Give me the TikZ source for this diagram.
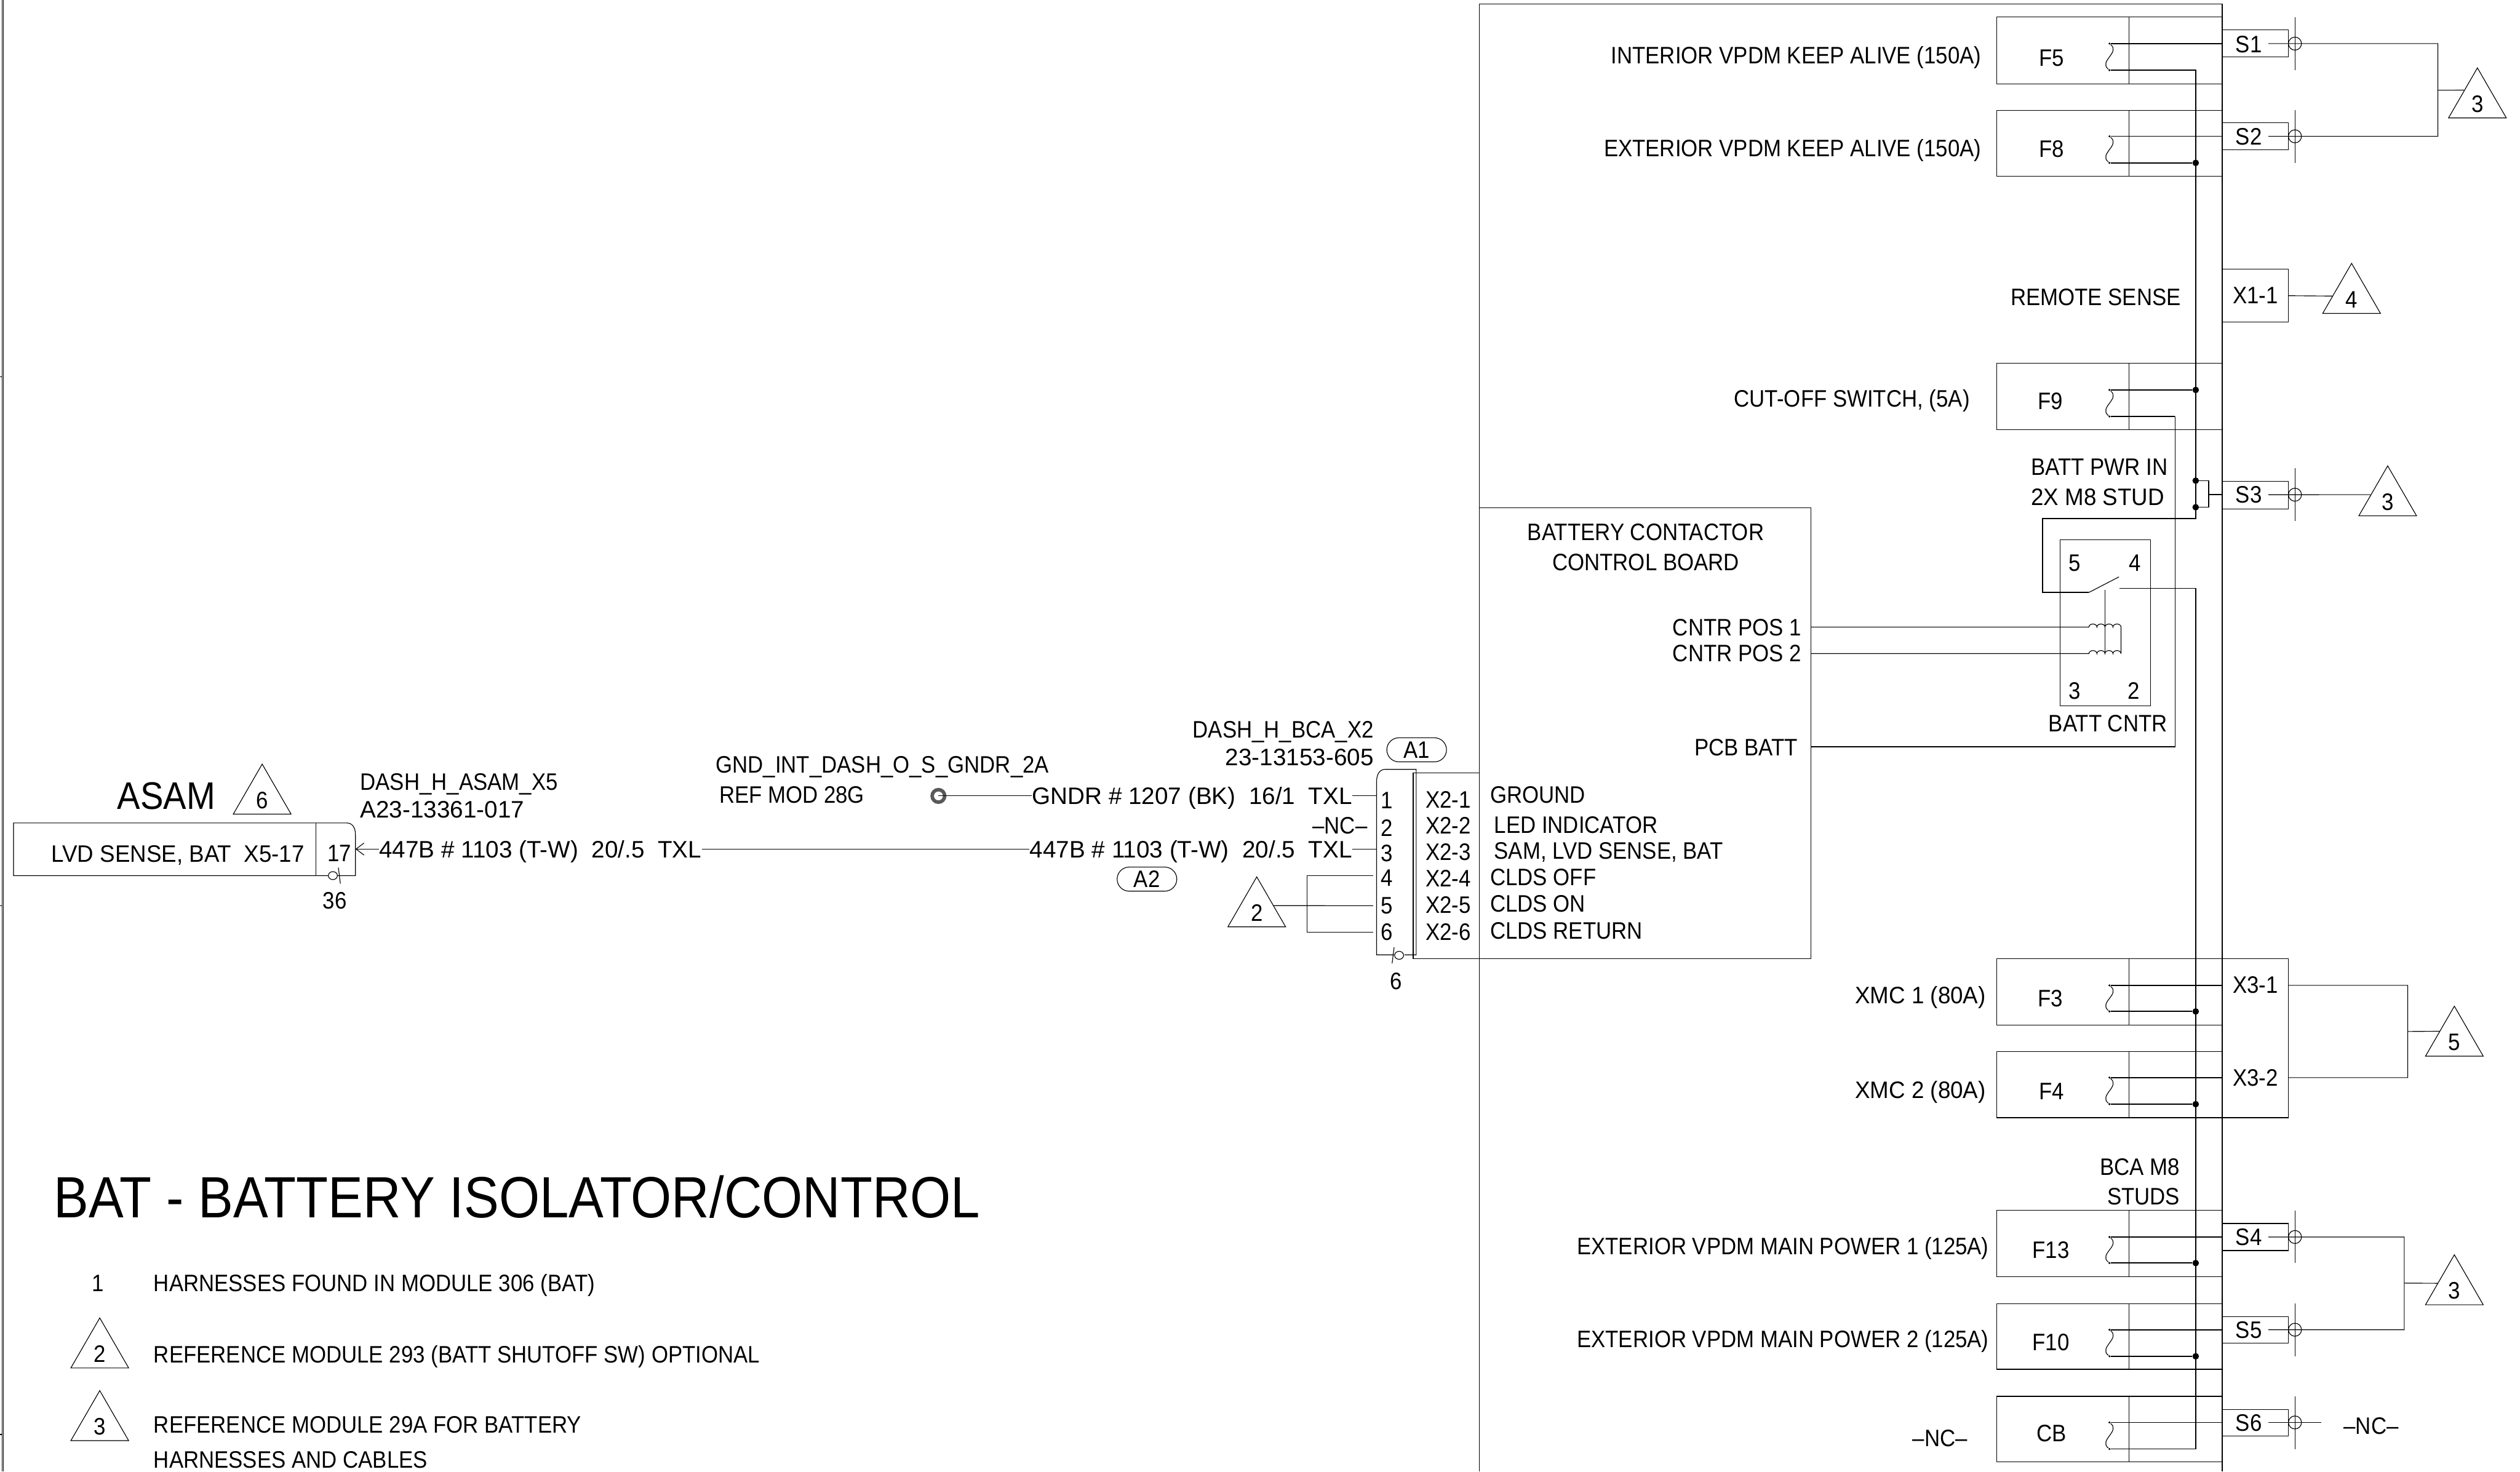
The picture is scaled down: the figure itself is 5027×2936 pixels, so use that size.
\documentclass[tikz,border=0pt]{standalone}
\usepackage{fontspec}
\setmainfont[FakeStretch=0.90]{Liberation Sans}
\newfontfamily\midfont[FakeStretch=0.95]{Liberation Sans}
\newfontfamily\widefont[FakeStretch=1.0]{Liberation Sans}
\usetikzlibrary{shapes.geometric,shapes.misc,arrows.meta}

\begin{document}
\begin{tikzpicture}[x=0.01cm,y=-0.01cm,line width=0.4pt]
\tikzstyle{every node}=[inner sep=0pt,text height=9.6pt,text depth=0pt,font=\fontsize{13.5}{16}\selectfont];
\tikzstyle{wire}=[line width=0.6pt];
\tikzstyle{lft}=[anchor=west];
\tikzstyle{rgt}=[anchor=east];
\tikzstyle{mid}=[font=\fontsize{13.5}{16}\selectfont\midfont];
\tikzstyle{wide}=[font=\fontsize{13.5}{16}\selectfont\widefont];
\tikzstyle{tag}=[draw,regular polygon,regular polygon sides=3,minimum size=1.33cm,text height=12.4pt];
\tikzstyle{pill}=[draw,rounded rectangle,minimum width=1.19cm,minimum height=0.48cm];
\tikzstyle{dot}=[circle,fill,minimum size=0.13cm,text height=0pt];
\tikzstyle{tap}=[circle,fill,minimum size=0.045cm,text height=0pt];
\tikzstyle{sleeve}=[draw,circle,minimum size=0.26cm,text height=0pt];
\tikzstyle{fuselink}=[to path={.. controls ([shift={(22,18)}]\tikztostart) and ([shift={(-22,-18)}]\tikztotarget) .. (\tikztotarget)}];
\tikzstyle{hump}=[start angle=180,end angle=360,x radius=8,y radius=6];
\useasboundingbox (0,0) rectangle (5027,2936);

% sheet edge
\draw (4,0) -- (4,2936) (6.5,0) -- (6.5,2936) (0,752) -- (4,752) (0,1807) -- (4,1807) (0,2862) -- (4,2862);

% outer module
\draw (2951,2936) -- (2951,8) -- (4433,8) -- (4433,2936);

% fuses
\draw (3983,34) rectangle (4433,167) (4247,34) -- (4247,167);
\path (4093,115) node (f5) {F5};
\path (3953,110) node[rgt] (f5t) {INTERIOR VPDM KEEP ALIVE (150A)};
\path (4208,87) node[tap] (f5a) {};
\path (4208,140) node[tap] (f5b) {};
\draw (3983,220) rectangle (4433,352) (4247,220) -- (4247,352);
\path (4093,297) node (f8) {F8};
\path (3953,295) node[rgt] (f8t) {EXTERIOR VPDM KEEP ALIVE (150A)};
\path (4208,272) node[tap] (f8a) {};
\path (4208,325) node[tap] (f8b) {};
\draw (3983,725) rectangle (4433,857) (4247,725) -- (4247,857);
\path (4090,800) node (f9) {F9};
\path (3930,795) node[rgt] (f9t) {CUT-OFF SWITCH, (5A)};
\path (4208,778) node[tap] (f9a) {};
\path (4208,831) node[tap] (f9b) {};
\draw (3983,1913) rectangle (4433,2045) (4247,1913) -- (4247,2045);
\path (4090,1992) node (f3) {F3};
\path (3962,1985) node[rgt,mid] (f3t) {XMC 1 (80A)};
\path (4208,1966) node[tap] (f3a) {};
\path (4208,2018) node[tap] (f3b) {};
\draw (3983,2098) rectangle (4433,2230) (4247,2098) -- (4247,2230);
\path (4093,2177) node (f4) {F4};
\path (3962,2174) node[rgt,mid] (f4t) {XMC 2 (80A)};
\path (4208,2150) node[tap] (f4a) {};
\path (4208,2203) node[tap] (f4b) {};
\draw (3983,2415) rectangle (4433,2547) (4247,2415) -- (4247,2547);
\path (4091,2493) node (f13) {F13};
\path (3968,2486) node[rgt] (f13t) {EXTERIOR VPDM MAIN POWER 1 (125A)};
\path (4208,2468) node[tap] (f13a) {};
\path (4208,2520) node[tap] (f13b) {};
\draw (3983,2601) rectangle (4433,2732) (4247,2601) -- (4247,2732);
\path (4091,2677) node (f10) {F10};
\path (3968,2671) node[rgt] (f10t) {EXTERIOR VPDM MAIN POWER 2 (125A)};
\path (4208,2653) node[tap] (f10a) {};
\path (4208,2706) node[tap] (f10b) {};
\draw (3983,2786) rectangle (4433,2917) (4247,2786) -- (4247,2917);
\path (4092,2859) node (cb) {CB};
\path (3870,2869) node (cbt) {–NC–};
\path (4208,2838) node[tap] (cba) {};
\path (4208,2891) node[tap] (cbb) {};
\draw (f5a) to[fuselink] (f5b) (f8a) to[fuselink] (f8b) (f9a) to[fuselink] (f9b) (f3a) to[fuselink] (f3b);
\draw (f4a) to[fuselink] (f4b) (f13a) to[fuselink] (f13b) (f10a) to[fuselink] (f10b) (cba) to[fuselink] (cbb);

% studs
\draw (4433,60) rectangle (4565,114) (4433,245) rectangle (4565,299) (4433,960) rectangle (4565,1016);
\draw (4433,2441) rectangle (4565,2495) (4433,2627) rectangle (4565,2680) (4433,2812) rectangle (4565,2865);
\draw (4578,34) -- (4578,140) (4578,220) -- (4578,325) (4578,934) -- (4578,1039);
\draw (4578,2415) -- (4578,2520) (4578,2601) -- (4578,2706) (4578,2786) -- (4578,2891);
\path (4486,88) node (s1) {S1};
\path (4486,272) node (s2) {S2};
\path (4486,987) node (s3) {S3};
\path (4486,2468) node (s4) {S4};
\path (4486,2653) node (s5) {S5};
\path (4486,2838) node (s6) {S6};
\path (4578,87) node[sleeve] (c1) {};
\path (4578,272) node[sleeve] (c2) {};
\path (4578,987) node[sleeve] (c3) {};
\path (4578,2468) node[sleeve] (c4) {};
\path (4578,2653) node[sleeve] (c5) {};
\path (4578,2838) node[sleeve] (c6) {};
\path (4433,87) coordinate (s1l) (4525,87) coordinate (s1r) (4433,272) coordinate (s2l) (4525,272) coordinate (s2r);
\path (4433,987) coordinate (s3l) (4525,987) coordinate (s3r) (4406,987) coordinate (s3k);
\path (4433,2468) coordinate (s4l) (4525,2468) coordinate (s4r) (4433,2653) coordinate (s5l) (4525,2653) coordinate (s5r);
\path (4433,2838) coordinate (s6l) (4525,2838) coordinate (s6r) (4631,2838) coordinate (s6e);
\path (4863,180) coordinate (j3a) (4796,2560) coordinate (j3b);
\draw (4433,537) rectangle (4565,643) (4433,1913) -- (4565,1913) -- (4565,2230) -- (4433,2230);
\path (4499,589) node (x11) {X1-1};
\path (4499,1965) node (x31) {X3-1};
\path (4499,2150) node (x32) {X3-2};
\path (4565,590) coordinate (x11r) (4433,1966) coordinate (x31l) (4565,1966) coordinate (x31r);
\path (4433,2150) coordinate (x32l) (4565,2150) coordinate (x32r) (4803,2058) coordinate (j5);

% reference triangles on the right
\path (4942,202) node[tag] (t3a) {3};
\path (4691,592) node[tag] (t4) {4};
\path (4763,996) node[tag] (t3b) {3};
\path (4896,2074) node[tag] (t5) {5};
\path (4896,2570) node[tag] (t3c) {3};
\draw (s1r) -| (j3a) |- (s2r) (j3a) -- (t3a.140);
\draw (x11r) -- (t4.178);
\draw (s3r) -- (t3b.165);
\draw (x31r) -| (j5) |- (x32r) (j5) -- (t5.151);
\draw (s4r) -| (j3b) |- (s5r) (j3b) -- (t3c.164);
\draw (s6r) -- (s6e);
\path (4730,2844) node (s6t) {–NC–};

% power bus
\path (4380,325) node[dot] (d8) {};
\path (4380,778) node[dot] (d9) {};
\path (4380,959) node[dot] (d3a) {};
\path (4380,1012) node[dot] (d3b) {};
\path (4380,2018) node[dot] (d3) {};
\path (4380,2203) node[dot] (d4) {};
\path (4380,2520) node[dot] (d13) {};
\path (4380,2706) node[dot] (d10) {};
\path (4380,1035) coordinate (bt) (4075,1182) coordinate (bl) (4167,1182) coordinate (sw);
\path (4227,1151) coordinate (swe) (4228,1174) coordinate (con);
\draw[wire] (f5a) -- (s1l) (f8a) -- (s2l) (f9a) -- (d9) (f8b) -- (d8);
\draw[wire] (f3a) -- (x31l) (f4a) -- (x32l) (f13a) -- (s4l) (f10a) -- (s5l) (cba) -- (s6l);
\draw[wire] (f3b) -- (d3) (f4b) -- (d4) (f13b) -- (d13) (f10b) -- (d10);
\draw[wire] (f5b) -| (d8.center) -- (d9.center) -- (d3a.center) -- (d3b.center) -- (bt) -| (bl) -- (sw);
\draw[wire] (con) -| (d3.center) -- (d4.center) -- (d13.center) -- (d10.center) |- (cbb);
\draw[wire] (d3a.center) -| (s3k) |- (d3b.center) (s3k) -- (s3l);
\draw (sw) -- (swe);
\path (4351,593) node[rgt] (rs) {REMOTE SENSE};
\path (4051,931) node[lft] (bp1) {BATT PWR IN};
\path (4051,991) node[lft,mid] (bp2) {2X M8 STUD};
\path (4349,2328) node[rgt] (bca1) {BCA M8};
\path (4349,2387) node[rgt] (bca2) {STUDS};

% contactor
\draw (4110,1077) rectangle (4290,1408);
\path (4139,1123) node (k5) {5};
\path (4259,1123) node (k4) {4};
\path (4139,1378) node (k3) {3};
\path (4257,1378) node (k2) {2};
\path (4205,1443) node (kn) {BATT CNTR};
\path (3612,1251) coordinate (pos1) (3612,1304) coordinate (pos2) (3612,1490) coordinate (pcb);
\path (4167,1251) coordinate (c1a) (4167,1304) coordinate (c2a) (4231,1251) coordinate (c1b) (4231,1304) coordinate (c2b);
\path (4199,1177) coordinate (lk1) (4199,1303) coordinate (lk2) (4339,831) coordinate (f9c);
\draw (pos1) -- (c1a) arc[hump] arc[hump] arc[hump] arc[hump] -- (c1b) -- (c2b);
\draw (pos2) -- (c2a) arc[hump] arc[hump] arc[hump] arc[hump] -- (c2b);
\draw (lk1) -- (lk2);
\draw[wire] (f9b) -- (f9c);
\draw (f9c) |- (pcb);

% control board
\draw (2951,1013) rectangle (3612,1913);
\path (3283,1061) node (bd1) {BATTERY CONTACTOR};
\path (3283,1121) node (bd2) {CONTROL BOARD};
\path (3594,1252) node[rgt] (cp1) {CNTR POS 1};
\path (3594,1303) node[rgt] (cp2) {CNTR POS 2};
\path (3587,1491) node[rgt] (pb) {PCB BATT};
\draw (2819,1542) rectangle (2951,1913);
\path (2889,1595) node (x21) {X2-1};
\path (2889,1647) node (x22) {X2-2};
\path (2889,1700) node (x23) {X2-3};
\path (2889,1752) node (x24) {X2-4};
\path (2889,1805) node (x25) {X2-5};
\path (2889,1859) node (x26) {X2-6};
\path (2972,1585) node[lft] (g1) {GROUND};
\path (2980,1645) node[lft] (g2) {LED INDICATOR};
\path (2980,1697) node[lft] (g3) {SAM, LVD SENSE, BAT};
\path (2972,1750) node[lft] (g4) {CLDS OFF};
\path (2972,1803) node[lft] (g5) {CLDS ON};
\path (2972,1857) node[lft] (g6) {CLDS RETURN};

% harness connector at the board
\draw (2781,1905) -- (2746,1905) -- (2746,1560) .. controls (2746,1545) and (2752,1535) .. (2763,1535) -- (2825,1535) -- (2825,1905) -- (2802,1905);
\draw (2777,1922) -- (2781,1890) (2791,1906) ellipse (9 and 8);
\path (2785,1957) node (n6) {6};
\path (2766,1596) node (p1) {1};
\path (2766,1652) node (p2) {2};
\path (2766,1702) node (p3) {3};
\path (2766,1751) node (p4) {4};
\path (2766,1806) node (p5) {5};
\path (2766,1859) node (p6) {6};
\path (2741,1455) node[rgt] (hb1) {DASH\_H\_BCA\_X2};
\path (2741,1510) node[rgt,wide] (hb2) {23-13153-605};
\path (2826,1496) node[pill] (a1) {A1};
\path (2288,1754) node[pill] (a2) {A2};
\path (2673,1647) node (nc) {–NC–};
\path (2746,1588) coordinate (e1) (2746,1694) coordinate (e3);
\path (2739,1747) coordinate (e4) (2739,1807) coordinate (e5) (2739,1860) coordinate (e6) (2607,1807) coordinate (j2);
\path (2507,1816) node[tag] (t2) {2};
\draw (e4) -| (j2) |- (e6);
\draw (t2.15) -- (e5);

% wires to the ground and the ASAM
\path (2698,1588) node[rgt,wide] (wg) {GNDR \# 1207 (BK)\ \ 16/1\ \ TXL};
\path (2698,1694) node[rgt,wide] (wb) {447B \# 1103 (T-W)\ \ 20/.5\ \ TXL};
\path (1400,1694) node[rgt,wide] (wa) {447B \# 1103 (T-W)\ \ 20/.5\ \ TXL};
\path (1872,1588) node[draw=black!65,circle,line width=2pt,minimum size=0.25cm,text height=0pt] (gnd) {};
\path (1427,1525) node[lft] (gn1) {GND\_INT\_DASH\_O\_S\_GNDR\_2A};
\path (1434,1585) node[lft] (gn2) {REF MOD 28G};
\draw (gnd.center) -- (wg.west);
\draw (wg.east) -- (e1);
\draw (wb.east) -- (e3);
\draw (wa.east) -- (wb.west);

% ASAM
\draw (655,1747) -- (27,1747) -- (27,1642) -- (692,1642) .. controls (702,1642) and (709,1650) .. (709,1665) -- (709,1747) -- (673,1747);
\draw (630,1642) -- (630,1747);
\draw (675,1731) -- (679,1763) (664,1747) ellipse (9 and 8);
\path (102,1703) node[lft,mid] (as1) {LVD SENSE, BAT\ \ X5-17};
\path (677,1702) node (as2) {17};
\path (668,1796) node (as3) {36};
\path (332,1587) node[font=\fontsize{21.8}{24}\selectfont,text height=15.6pt] (asam) {ASAM};
\path (523,1591) node[tag] (t6) {6};
\path (718,1560) node[lft] (ha1) {DASH\_H\_ASAM\_X5};
\path (718,1615) node[lft,wide] (ha2) {A23-13361-017};
\path (709,1694) coordinate (ae);
\draw[{Straight Barb[length=0.16cm,width=0.24cm]}-] (ae) -- (wa.west);

% title and notes
\path (107,2387) node[lft,font=\fontsize{33}{36}\selectfont,text height=23.8pt] (ttl) {BAT - BATTERY ISOLATOR/CONTROL};
\path (195,2560) node (no1) {1};
\path (306,2560) node[lft] (nt1) {HARNESSES FOUND IN MODULE 306 (BAT)};
\path (199,2696) node[tag] (no2) {2};
\path (306,2702) node[lft] (nt2) {REFERENCE MODULE 293 (BATT SHUTOFF SW) OPTIONAL};
\path (199,2841) node[tag] (no3) {3};
\path (306,2842) node[lft] (nt3) {REFERENCE MODULE 29A FOR BATTERY};
\path (306,2912) node[lft] (nt4) {HARNESSES AND CABLES};
\end{tikzpicture}
\end{document}
